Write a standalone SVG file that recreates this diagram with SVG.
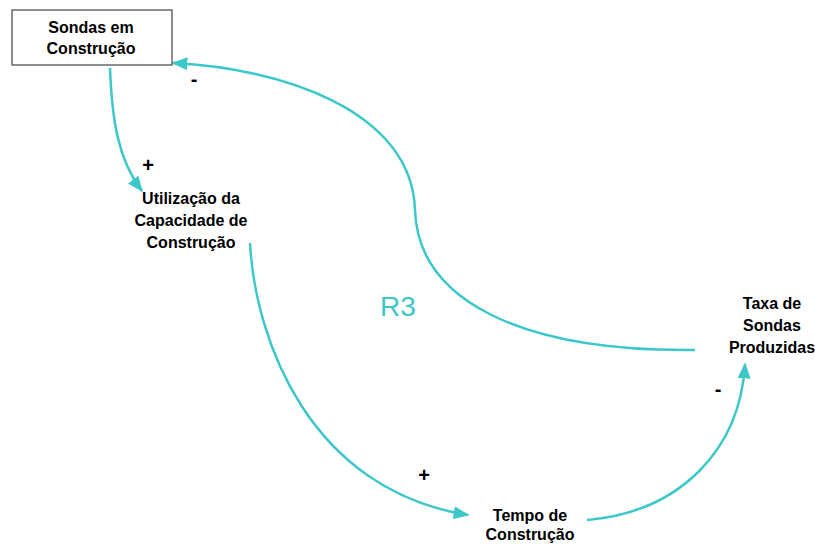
<svg xmlns="http://www.w3.org/2000/svg" width="815" height="544" viewBox="0 0 815 544">
<defs>
<marker id="ah" viewBox="0 0 10 10" refX="9" refY="5" markerWidth="16" markerHeight="13" orient="auto" markerUnits="userSpaceOnUse" preserveAspectRatio="none">
<path d="M0,0 L10,5 L0,10 Z" fill="#3cc8c8"/>
</marker>
<style>
.lbl{font-family:"Liberation Sans",Arial,sans-serif;font-weight:bold;font-size:16px;fill:#000;text-anchor:middle}
.sign{font-family:"Liberation Sans",Arial,sans-serif;font-weight:bold;font-size:20px;fill:#000;text-anchor:middle}
.edge{fill:none;stroke:#3cc8c8;stroke-width:2.5}
</style>
</defs>
<rect width="815" height="544" fill="#fff"/>
<g id="connectors">
<path class="edge" d="M110,68 C112,120 118,160 142,191" marker-end="url(#ah)"/>
<path class="edge" d="M250,243 C255,340 310,490 468,515" marker-end="url(#ah)"/>
<path class="edge" d="M587,520 C680,512 740,450 745,364" marker-end="url(#ah)"/>
<path class="edge" d="M695,350 C520,352 418,300 415,210 C412,110 280,68 173,63" marker-end="url(#ah)"/>
<text class="sign" x="148" y="172">+</text>
<text class="sign" x="424" y="482">+</text>
<text class="sign" x="718" y="396">-</text>
<text class="sign" x="194" y="86">-</text>
</g>
<g id="n1">
<rect x="12" y="10" width="160" height="55" fill="#fff" stroke="#444" stroke-width="1.2"/>
<text class="lbl" x="91" y="33">Sondas em</text>
<text class="lbl" x="91" y="54">Construção</text>
</g>
<g id="n2">
<text class="lbl" x="191" y="204">Utilização da</text>
<text class="lbl" x="191" y="226">Capacidade de</text>
<text class="lbl" x="191" y="248">Construção</text>
</g>
<g id="n3">
<text class="lbl" x="772" y="309">Taxa de</text>
<text class="lbl" x="772" y="331">Sondas</text>
<text class="lbl" x="772" y="353">Produzidas</text>
</g>
<g id="n4">
<text class="lbl" x="530" y="521">Tempo de</text>
<text class="lbl" x="530" y="540">Construção</text>
</g>
<text x="398" y="316" font-family="'Liberation Sans',Arial,sans-serif" font-size="28" fill="#3cc8c8" text-anchor="middle">R3</text>
</svg>
